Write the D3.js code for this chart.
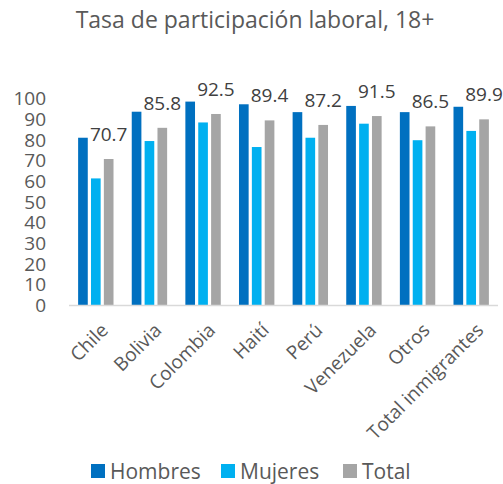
<!DOCTYPE html>
<html>
  <head>
    <meta charset="utf-8"/>
    <title>Tasa de participación laboral, 18+</title>
    <style type="text/css">
body {
  margin: 0;
  background: #fff;
}
text {
  font-family: "Open Sans", sans-serif;
  fill: #595959;
}
    </style>
  </head>
  <body>
    <div id="chart"></div>
    <script src="https://cdn.jsdelivr.net/npm/d3@7"></script>
    <script>
    const categories = ["Chile", "Bolivia", "Colombia", "Haití", "Perú", "Venezuela", "Otros", "Total inmigrantes"];
    const seriesNames = ["Hombres", "Mujeres", "Total"];
    const hombres = [81.0, 93.6, 98.5, 97.2, 93.4, 96.4, 93.4, 96.0];
    const mujeres = [61.3, 79.4, 88.4, 76.5, 81.0, 87.8, 79.8, 84.3];
    const total = [70.7, 85.8, 92.5, 89.4, 87.2, 91.5, 86.5, 89.9];
    const yTicks = [0, 10, 20, 30, 40, 50, 60, 70, 80, 90, 100];
    const colors = ["#0070c0", "#00b0f0", "#a5a5a5"];

    const values = [hombres, mujeres, total];
    const width = 503, height = 484;

    const svg = d3.select("#chart").append("svg")
        .attr("width", width)
        .attr("height", height);

    const x = d3.scaleBand().domain(categories).range([69, 498]).paddingInner(0.34).paddingOuter(0.17);
    const xs = d3.scaleBand().domain(seriesNames).range([0, x.bandwidth()]).paddingInner(0.25);
    const y = d3.scaleLinear().domain([0, 100]).range([305, 98.5]);

    svg.append("text")
        .attr("x", 255)
        .attr("y", 28)
        .attr("text-anchor", "middle")
        .style("font-size", "23px")
        .text("Tasa de participación laboral, 18+");

    // y axis labels, no line
    svg.append("g")
        .selectAll("text")
        .data(yTicks)
        .enter()
        .append("text")
        .attr("x", 46)
        .attr("y", d => y(d))
        .attr("dy", "0.36em")
        .attr("text-anchor", "end")
        .style("font-size", "19px")
        .text(d => d);

    const groups = svg.append("g")
        .selectAll("g")
        .data(categories)
        .enter()
        .append("g")
        .attr("transform", d => "translate(" + x(d) + ",0)");

    groups.selectAll("rect")
        .data((d, i) => seriesNames.map((s, j) => ({s: s, v: values[j][i]})))
        .enter()
        .append("rect")
        .attr("x", d => xs(d.s))
        .attr("y", d => y(d.v))
        .attr("width", xs.bandwidth())
        .attr("height", d => y(0) - y(d.v))
        .attr("fill", (d, j) => colors[j]);

    // labels only on Total
    groups.append("text")
        .attr("x", xs("Total") + xs.bandwidth() / 2)
        .attr("y", (d, i) => y(total[i]) - 18)
        .attr("text-anchor", "middle")
        .style("font-size", "19px")
        .style("fill", "#404040")
        .text((d, i) => total[i].toFixed(1));

    svg.append("line")
        .attr("x1", 69)
        .attr("x2", 498)
        .attr("y1", 305.5)
        .attr("y2", 305.5)
        .style("stroke", "#d9d9d9")
        .style("stroke-width", 1.5);

    // category labels
    svg.append("g")
        .selectAll("text")
        .data(categories)
        .enter()
        .append("text")
        .attr("transform", d => "translate(" + (x(d) + x.bandwidth() / 2 + 4) + ",322) rotate(-45)")
        .attr("text-anchor", "end")
        .attr("dy", "0.7em")
        .style("font-size", "19px")
        .text(d => d);

    // legend
    const legendX = [91, 221, 343];
    const legend = svg.append("g")
        .selectAll("g")
        .data(seriesNames)
        .enter()
        .append("g")
        .attr("transform", (d, i) => "translate(" + legendX[i] + ",464)");

    legend.append("rect")
        .attr("width", 14)
        .attr("height", 14)
        .attr("fill", (d, i) => colors[i]);

    legend.append("text")
        .attr("x", 19)
        .attr("y", 7)
        .attr("dy", "0.36em")
        .style("font-size", "21px")
        .text(d => d);
    </script>
  </body>
</html>
